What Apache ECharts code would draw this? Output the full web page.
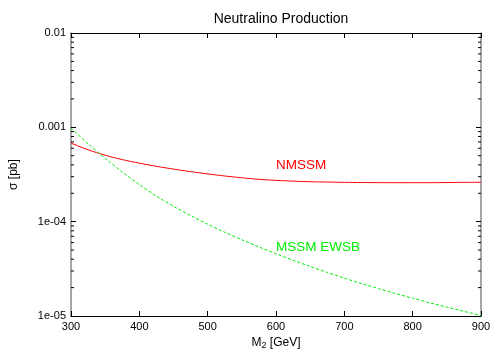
<!DOCTYPE html>
<html>
<head>
<meta charset="utf-8">
<script src="https://cdn.jsdelivr.net/npm/echarts@6/dist/echarts.min.js"></script>
<style>
  html, body { margin: 0; padding: 0; background: #fff; }
  #chart { width: 500px; height: 350px; }
</style>
</head>
<body>
<div id="chart"></div>
<script>
// M2 [GeV] sample points
const massPoints = [300, 325, 350, 375, 400, 425, 450, 475, 500, 525, 550, 575, 600, 625, 650, 675, 700, 725, 750, 775, 800, 825, 850, 875, 900];

// sigma [pb]
const nmssm = [
  6.81e-4, 5.78e-4, 5.06e-4, 4.55e-4, 4.17e-4, 3.86e-4, 3.61e-4, 3.39e-4, 3.21e-4, 3.05e-4,
  2.92e-4, 2.81e-4, 2.74e-4, 2.69e-4, 2.65e-4, 2.63e-4, 2.61e-4, 2.6e-4, 2.594e-4, 2.59e-4,
  2.59e-4, 2.59e-4, 2.6e-4, 2.61e-4, 2.62e-4,
];
const mssmEwsb = [
  9.79e-4, 6.7e-4, 4.69e-4, 3.36e-4, 2.47e-4, 1.87e-4, 1.456e-4, 1.159e-4, 9.4e-5, 7.73e-5,
  6.43e-5, 5.4e-5, 4.57e-5, 3.9e-5, 3.35e-5, 2.9e-5, 2.52e-5, 2.21e-5, 1.95e-5, 1.73e-5,
  1.545e-5, 1.38e-5, 1.245e-5, 1.12e-5, 1.014e-5,
];

const yTickLabels = { "-5": "1e-05", "-4": "1e-04", "-3": "0.001", "-2": "0.01" };
// minor ticks of the log axis: 2..9 x 10^n
const minorTickValues = [];
for (const decade of [1e-5, 1e-4, 1e-3]) {
  for (let k = 2; k <= 9; k++) minorTickValues.push(k * decade);
}

const FONT = "Liberation Sans";
const RED = "#ff0000";
const GREEN = "#00ee00";

const chart = echarts.init(document.getElementById("chart"));

function pairs(values) {
  return massPoints.map((m, i) => [m, values[i]]);
}

const yBase = {
  type: "log",
  logBase: 10,
  min: 1e-5,
  max: 1e-2,
  splitLine: { show: false },
  axisTick: { show: true, inside: true, length: 5, lineStyle: { color: "#000" } },
  axisLine: { show: true, lineStyle: { color: "#888", width: 1.5 } },
};

const xBase = {
  type: "value",
  min: 300,
  max: 900,
  interval: 100,
  splitLine: { show: false },
  axisTick: { show: true, inside: true, length: 5, lineStyle: { color: "#000" } },
  axisLine: { show: true, lineStyle: { color: "#000", width: 1 } },
};

// short inward ticks on left and right edges
function renderMinorTick(params, api) {
  const v = api.value(0);
  const l = api.coord([300, v]);
  const r = api.coord([900, v]);
  const style = { stroke: "#000", lineWidth: 1 };
  return {
    type: "group",
    children: [
      { type: "line", shape: { x1: l[0], y1: l[1], x2: l[0] + 3, y2: l[1] }, style },
      { type: "line", shape: { x1: r[0], y1: r[1], x2: r[0] - 3, y2: r[1] }, style },
    ],
  };
}

chart.setOption({
  animation: false,
  title: {
    text: "Neutralino Production",
    left: 276,
    top: 7,
    textAlign: "center",
    textStyle: { fontFamily: FONT, fontSize: 14, fontWeight: "normal", color: "#000" },
  },
  grid: { left: 71, right: 19, top: 33, bottom: 34, outerBoundsMode: "none", containLabel: false },
  xAxis: [
    Object.assign({}, xBase, {
      position: "bottom",
      name: "M{sub|2} [GeV]",
      nameLocation: "middle",
      nameGap: 12,
      nameTextStyle: {
        fontFamily: FONT, fontSize: 12, color: "#000",
        rich: { sub: { fontFamily: FONT, fontSize: 9, verticalAlign: "bottom", padding: [5, 0, 0, 0] } },
      },
      axisLabel: { fontFamily: FONT, fontSize: 11, color: "#000", margin: 5 },
    }),
    Object.assign({}, xBase, {
      position: "top",
      axisLabel: { show: false },
    }),
  ],
  yAxis: [
    Object.assign({}, yBase, {
      position: "left",
      name: "σ [pb]",
      nameLocation: "middle",
      nameGap: 51,
      nameTextStyle: { fontFamily: FONT, fontSize: 12, color: "#000" },
      axisLabel: {
        fontFamily: FONT, fontSize: 11, color: "#000", margin: 5,
        formatter: (v) => yTickLabels[String(Math.round(Math.log10(v)))] || "",
      },
    }),
    Object.assign({}, yBase, {
      position: "right",
      axisLabel: { show: false },
    }),
  ],
  series: [
    {
      type: "custom",
      silent: true,
      renderItem: renderMinorTick,
      data: minorTickValues.map((v) => [v]),
      encode: { y: 0 },
      clip: false,
    },
    {
      name: "NMSSM",
      type: "line",
      smooth: 0.3,
      symbol: "none",
      data: pairs(nmssm),
      lineStyle: { color: RED, width: 1 },
      markPoint: {
        symbol: "circle",
        symbolSize: 0,
        data: [{ coord: [600, 4.0e-4] }],
        label: {
          show: true, formatter: "NMSSM", position: "right", distance: 0,
          fontFamily: FONT, fontSize: 13.5, color: RED,
        },
      },
    },
    {
      name: "MSSM EWSB",
      type: "line",
      smooth: 0.3,
      symbol: "none",
      data: pairs(mssmEwsb),
      lineStyle: { color: GREEN, width: 1, type: [3, 2] },
      markPoint: {
        symbol: "circle",
        symbolSize: 0,
        data: [{ coord: [600, 5.36e-5] }],
        label: {
          show: true, formatter: "MSSM EWSB", position: "right", distance: 0,
          fontFamily: FONT, fontSize: 13.5, color: GREEN,
        },
      },
    },
  ],
});
</script>
</body>
</html>
